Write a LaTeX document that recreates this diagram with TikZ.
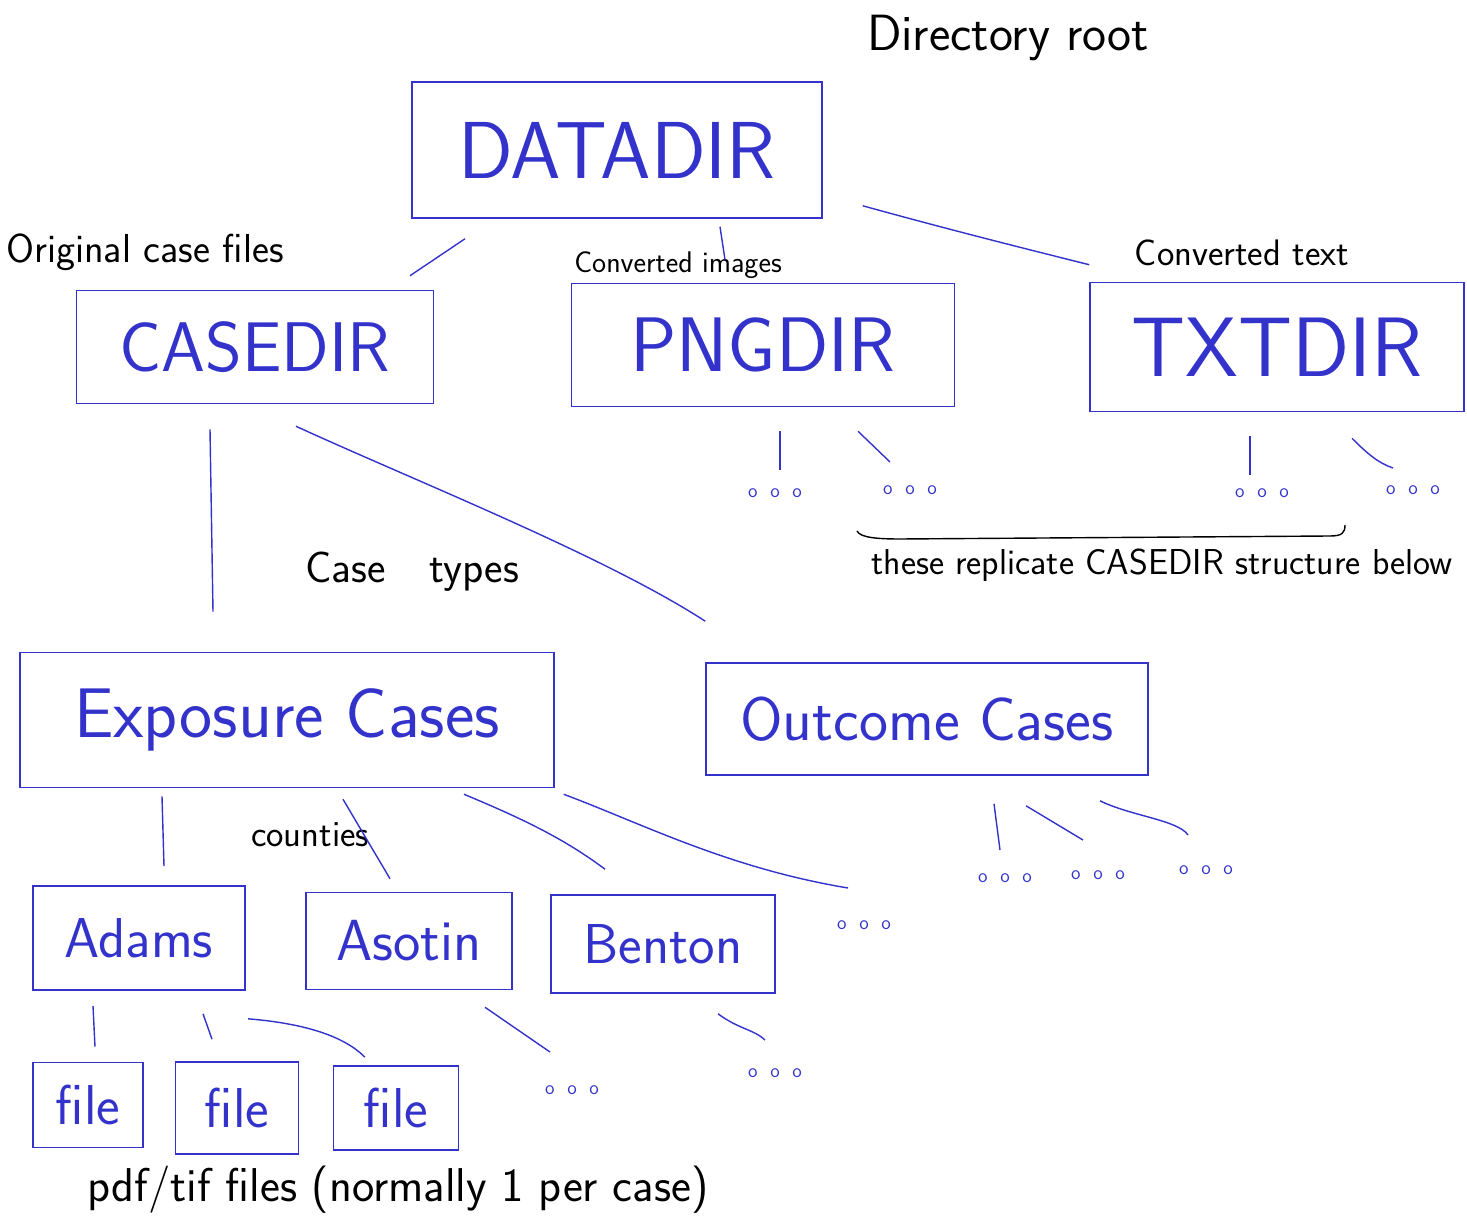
\documentclass[tikz,border=0pt]{standalone}
\usepackage{fontspec}
\renewcommand{\familydefault}{\sfdefault}
\usetikzlibrary{calc}
\definecolor{ink}{RGB}{51,51,204}

\begin{document}
\begin{tikzpicture}[x=0.02cm, y=-0.02cm,
  dirbox/.style={draw=ink, text=ink, line width=0.9pt, inner sep=0pt},
  note/.style={text=black, inner sep=0pt},
  etcdots/.style={text=ink, inner sep=1pt, font=\fontsize{11}{12}\selectfont},
  link/.style={draw=ink, line width=0.8pt}]
\useasboundingbox (0,0) rectangle (1467,1222);

% directories
\node[dirbox, minimum width=8.2cm, minimum height=2.72cm, font=\fontsize{46}{50}\selectfont] (datadir) at (617,150) {DATADIR};
\node[dirbox, minimum width=7.14cm, minimum height=2.26cm, font=\fontsize{40}{44}\selectfont] (casedir) at (255,347) {CASEDIR};
\node[dirbox, minimum width=7.66cm, minimum height=2.46cm, font=\fontsize{44}{48}\selectfont] (pngdir) at (763,345) {PNGDIR};
\node[dirbox, minimum width=7.48cm, minimum height=2.58cm, font=\fontsize{48}{52}\selectfont] (txtdir) at (1277,347) {TXTDIR};

% case types
\node[dirbox, minimum width=10.68cm, minimum height=2.7cm, font=\fontsize{40}{44}\selectfont] (exposure) at (287,720) {Exposure Cases};
\node[dirbox, minimum width=8.84cm, minimum height=2.24cm, font=\fontsize{35}{40}\selectfont] (outcome) at (927,719) {Outcome Cases};

% counties
\node[dirbox, minimum width=4.24cm, minimum height=2.08cm, font=\fontsize{32}{36}\selectfont] (adams) at (139,938) {Adams};
\node[dirbox, minimum width=4.12cm, minimum height=1.94cm, font=\fontsize{33}{36}\selectfont] (asotin) at (409,941) {Asotin};
\node[dirbox, minimum width=4.48cm, minimum height=1.96cm, font=\fontsize{32}{36}\selectfont] (benton) at (663,944) {Benton};

% files
\node[dirbox, minimum width=2.2cm, minimum height=1.7cm, font=\fontsize{32}{36}\selectfont] (file1) at (88,1105) {file};
\node[dirbox, minimum width=2.46cm, minimum height=1.84cm, font=\fontsize{32}{36}\selectfont] (file2) at (237,1108) {file};
\node[dirbox, minimum width=2.5cm, minimum height=1.68cm, font=\fontsize{32}{36}\selectfont] (file3) at (396,1108) {file};

% more of the same
\node[etcdots] (pd1) at (775,493) {o~~o~~o};
\node[etcdots] (pd2) at (910,490) {o~~o~~o};
\node[etcdots] (td1) at (1262,493) {o~~o~~o};
\node[etcdots] (td2) at (1413,490) {o~~o~~o};
\node[etcdots] (od1) at (1005,878) {o~~o~~o};
\node[etcdots] (od2) at (1098,875) {o~~o~~o};
\node[etcdots] (od3) at (1206,870) {o~~o~~o};
\node[etcdots] (ed) at (864,925) {o~~o~~o};
\node[etcdots] (ad) at (572,1090) {o~~o~~o};
\node[etcdots] (bd) at (775,1073) {o~~o~~o};

% notes
\node[note, font=\fontsize{29}{32}\selectfont] (root) at (1008,38) {Directory root};
\node[note, font=\fontsize{23}{26}\selectfont] (orig) at (145,252) {Original case files};
\node[note, font=\fontsize{17}{20}\selectfont] (convimg) at (678,265) {Converted images};
\node[note, font=\fontsize{21}{24}\selectfont] (convtxt) at (1242,253) {Converted text};
\node[note, font=\fontsize{25}{28}\selectfont] (types) at (412,572) {Case\quad types};
\node[note, font=\fontsize{21}{24}\selectfont] (counties) at (310,835) {counties};
\node[note, font=\fontsize{20.5}{24}\selectfont] (replicate) at (1162,565) {these replicate CASEDIR structure below};
\node[note, font=\fontsize{27}{30}\selectfont] (pdf) at (398,1190) {pdf/tif files (normally 1 per case)};

% bracket over the note
\draw[line width=0.8pt] (857,531) .. controls (860,538) and (880,539) .. (900,539)
  -- (1330,536) .. controls (1342,536) and (1345,533) .. (1345,525);

% links
\draw[link] ($(datadir.south)+(-152,20)$) -- ($(casedir.north)+(155,-14)$);
\draw[link] ($(datadir.south)+(103,8)$) -- ($(pngdir.north)+(-38,-23)$);
\draw[link] ($(datadir.south east)+(40,-13)$) .. controls +(90,25) and +(-40,-10) .. ($(txtdir.north west)+(0,-17)$);
\draw[link] ($(casedir.south)+(-45,25)$) -- ($(exposure.north)+(-74,-40)$);
\draw[link] ($(casedir.south)+(41,22)$) .. controls +(120,55) and +(-100,-65) .. ($(outcome.north west)+(0,-41)$);
\draw[link] ($(pngdir.south)+(17,24)$) -- ($(pd1)+(5,-23)$);
\draw[link] ($(pngdir.south)+(95,24)$) -- ($(pd2)+(-20,-28)$);
\draw[link] ($(txtdir.south)+(-27,24)$) -- ($(td1)+(-12,-18)$);
\draw[link] ($(txtdir.south)+(75,26)$) .. controls +(15,15) and +(-15,-5) .. ($(td2)+(-20,-22)$);
\draw[link] ($(exposure.south)+(-125,8)$) -- ($(adams.north)+(25,-19)$);
\draw[link] ($(exposure.south)+(56,11)$) -- ($(asotin.north)+(-19,-13)$);
\draw[link] ($(exposure.south)+(177,6)$) .. controls +(60,25) and +(-40,-30) .. ($(benton.north)+(-58,-25)$);
\draw[link] ($(exposure.south east)+(9,6)$) .. controls +(80,30) and +(-120,-20) .. ($(ed)+(-16,-37)$);
\draw[link] ($(outcome.south)+(67,28)$) -- ($(od1)+(-5,-28)$);
\draw[link] ($(outcome.south)+(99,30)$) -- ($(od2)+(-15,-35)$);
\draw[link] ($(outcome.south)+(173,25)$) .. controls +(30,15) and +(-10,-15) .. ($(od3)+(-18,-35)$);
\draw[link] ($(adams.south)+(-46,15)$) -- ($(file1.north)+(7,-15)$);
\draw[link] ($(adams.south)+(64,23)$) -- ($(file2.north)+(-25,-22)$);
\draw[link] ($(adams.south)+(109,28)$) .. controls +(60,5) and +(-20,-20) .. ($(file3.north)+(-31,-8)$);
\draw[link] ($(asotin.south)+(76,17)$) -- ($(ad)+(-22,-38)$);
\draw[link] ($(benton.south)+(55,20)$) .. controls +(20,15) and +(-10,-10) .. ($(bd)+(-10,-33)$);
\end{tikzpicture}
\end{document}
